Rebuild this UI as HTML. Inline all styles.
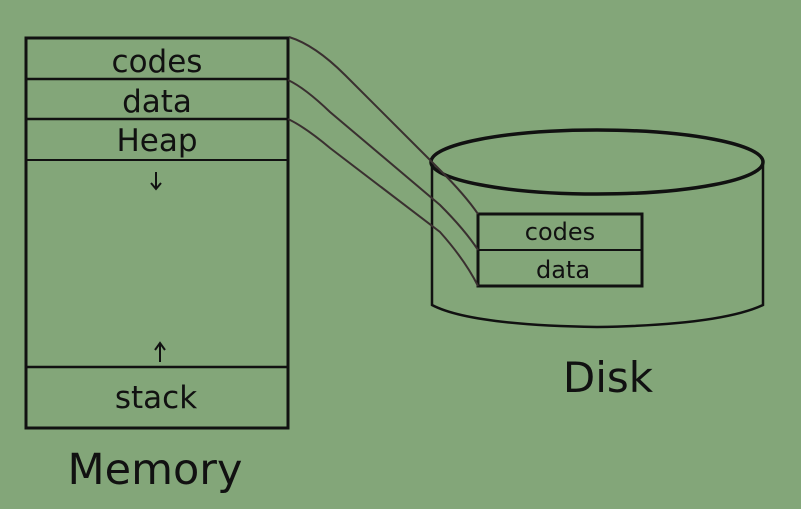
<!DOCTYPE html>
<html><head><style>
html,body{margin:0;padding:0;background:#83a679;}
svg{display:block}
text{font-family:"DejaVu Sans","Liberation Sans",sans-serif;fill:#111;}
</style></head><body>
<svg width="801" height="509" viewBox="0 0 801 509">
<rect width="801" height="509" fill="#83a679"/>
<g stroke="#111" stroke-width="3" fill="none">
<rect x="26" y="38" width="262" height="390"/>
<line x1="26" y1="79" x2="288" y2="79" stroke-width="2.5"/>
<line x1="26" y1="119" x2="288" y2="119" stroke-width="2.5"/>
<line x1="26" y1="160" x2="288" y2="160" stroke-width="2"/>
<line x1="26" y1="367" x2="288" y2="367" stroke-width="2.5"/>
</g>
<g stroke="#111" fill="none">
<path d="M432 162 L432 305 Q470 325 597 327 Q720 325 763 305 L763 162" stroke-width="2.5"/>
<ellipse cx="597" cy="162" rx="166" ry="32" stroke-width="3.5"/>
<rect x="478" y="214" width="164" height="72" stroke-width="3"/>
<line x1="478" y1="250" x2="642" y2="250" stroke-width="2"/>
<path d="M156 172 L156 188 M151 183 L156 189 L161 183" stroke-width="2"/>
<path d="M160 362 L160 344 M155 350 L160 343 L165 350" stroke-width="2"/>
</g>
<g stroke="#3a3030" stroke-width="2" fill="none">
<path d="M289 37 Q315 45 345 75 L440 170 Q465 195 478 214"/>
<path d="M288 80 Q305 88 330 112 L440 205 Q465 230 478 250"/>
<path d="M288 119 Q305 127 330 148 L440 232 Q465 260 478 286"/>
</g>
<text x="157" y="72" font-size="31" text-anchor="middle">codes</text>
<text x="157" y="112" font-size="31" text-anchor="middle">data</text>
<text x="157" y="151" font-size="31" text-anchor="middle">Heap</text>
<text x="156" y="408" font-size="31" text-anchor="middle">stack</text>
<text x="155" y="484" font-size="43" text-anchor="middle">Memory</text>
<text x="560" y="240" font-size="24" text-anchor="middle">codes</text>
<text x="563" y="278" font-size="24" text-anchor="middle">data</text>
<text x="608" y="392" font-size="42" text-anchor="middle">Disk</text>
</svg>
</body></html>
